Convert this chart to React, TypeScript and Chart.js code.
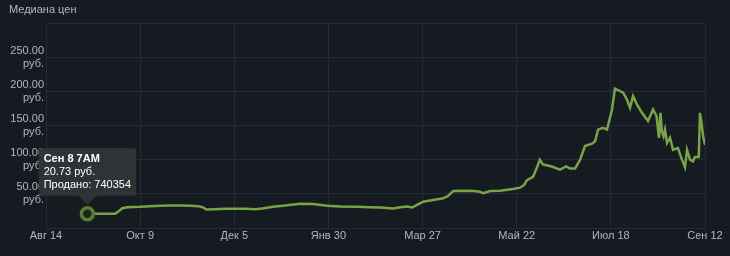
import React, { useEffect, useRef } from "react";
import { Chart, registerables } from "chart.js";

Chart.register(...registerables);

const chartTitle = "Медиана цен";
const xTickLabels = ["Авг 14", "Окт 9", "Дек 5", "Янв 30", "Мар 27", "Май 22", "Июл 18", "Сен 12"];
const xTickStepDays = 56;
const yTickValues = [0, 50, 100, 150, 200, 250, 300];
const currency = "руб.";

// days since Aug 14
const days = [
  24.4, 24.6, 32.3, 41.2, 43, 45.4, 48.3, 56, 62, 68, 74, 79.8, 85.8, 90.5, 93.5, 95.3,
  100.6, 106.6, 112.5, 118.5, 124.4, 128.6, 135.1, 142.3, 151.2, 158.9, 167.2, 175, 185,
  192.8, 198.8, 206.5, 210.6, 214.8, 217.8, 221.3, 224.3, 230.2, 236.2, 239.2, 242.2,
  248.1, 254.1, 258.2, 260, 264.2, 270.1, 277.8, 282, 284.4, 286.1, 289.7, 292, 293.7,
  295.6, 300.8, 305.8, 309.4, 311.7, 314.7, 317.7, 320.6, 324.8, 326.6, 328.4, 331.3,
  333.7, 336.7, 338.4, 341.4, 343.3, 345.6, 347.4, 349.2, 351.5, 354.5, 358.1, 361.1,
  363.2, 364.6, 365.5, 366.4, 367.3, 368.2, 369.4, 371.2, 373, 375.9, 378.3, 380.1,
  381.3, 383.1, 384.8, 386, 388.3, 389, 389.9, 390.9, 392,
];
const prices = [
  31, 20.73, 20.7, 20.7, 24, 29, 30.5, 31, 32, 32.5, 33, 33, 32.5, 32, 30, 27,
  27.5, 28, 28, 28, 27.5, 28.5, 31, 33, 35.5, 35, 32.5, 31.5, 31,
  30.5, 30, 28.5, 30.5, 31.5, 30, 34.5, 38.5, 41, 43.5, 47, 54,
  54.5, 54, 53, 51, 54, 54.5, 57, 59, 63, 70, 75, 88, 100,
  93, 90, 85.5, 90, 87, 87, 100, 120, 123.5, 127, 144, 146.5,
  144, 173.5, 204, 200.5, 198, 188, 176, 193, 181, 168.5, 156.5, 173.5,
  163.5, 132, 168.5, 140, 134, 144, 124.5, 132, 114.5, 117, 100, 89,
  114.5, 100, 97.5, 104, 104, 168.5, 154, 134, 122,
];

const tooltipIndex = 1;
const tooltipTitleText = "Сен 8 7AM";
const tooltipSold = 740354;

const BG = "#161b22";
const GRID = "#212c3a";
const TEXT = "#b0b7be";
const LINE = "#78a349";
const FONT = '"Liberation Sans", Arial, sans-serif';

export default function App() {
  const canvasRef = useRef<HTMLCanvasElement | null>(null);

  useEffect(() => {
    document.body.style.margin = "0";
    document.body.style.background = BG;
    const canvas = canvasRef.current;
    if (!canvas) return;

    const bgPlugin = {
      id: "bgAndTitle",
      beforeDraw(chart: any) {
        const ctx = chart.ctx;
        ctx.save();
        ctx.fillStyle = BG;
        ctx.fillRect(0, 0, chart.width, chart.height);
        ctx.restore();
      },
      afterDraw(chart: any) {
        const ctx = chart.ctx;
        ctx.save();
        ctx.fillStyle = TEXT;
        ctx.font = `11px ${FONT}`;
        ctx.textBaseline = "alphabetic";
        ctx.textAlign = "left";
        ctx.fillText(chartTitle, 9, 13);
        ctx.restore();
      },
    };

    const chart = new Chart(canvas, {
      type: "line",
      data: {
        datasets: [
          {
            data: days.map((d, i) => ({ x: d, y: prices[i] })),
            borderColor: LINE,
            borderWidth: 2.5,
            pointRadius: 0,
            pointHoverRadius: 6,
            pointHoverBorderWidth: 3.5,
            pointHoverBackgroundColor: "#1d2419",
            pointHoverBorderColor: "#5a7d37",
            tension: 0,
            fill: false,
          },
        ],
      },
      options: {
        animation: false,
        responsive: false,
        events: [],
        layout: { padding: { top: 23, right: 25, bottom: 0, left: 0 } },
        plugins: {
          legend: { display: false },
          title: { display: false },
          tooltip: {
            enabled: true,
            backgroundColor: "rgba(50,52,55,0.96)",
            titleColor: "#ffffff",
            bodyColor: "#ffffff",
            titleFont: { family: FONT, size: 11, weight: "bold" },
            bodyFont: { family: FONT, size: 11 },
            padding: { top: 4, bottom: 4, left: 5, right: 5 },
            titleMarginBottom: 0,
            bodySpacing: 0,
            caretSize: 9,
            caretPadding: 9,
            cornerRadius: 2,
            displayColors: false,
            xAlign: "center",
            yAlign: "bottom",
            callbacks: {
              title: () => tooltipTitleText,
              label: (item: any) => [
                `${Number(item.parsed.y).toFixed(2)} ${currency}`,
                `Продано: ${tooltipSold}`,
              ],
            },
          },
        },
        scales: {
          x: {
            type: "linear",
            min: 0,
            max: xTickStepDays * (xTickLabels.length - 1),
            afterBuildTicks: (axis: any) => {
              axis.ticks = xTickLabels.map((_, i) => ({ value: i * xTickStepDays }));
            },
            afterFit: (axis: any) => {
              axis.height = 28;
            },
            ticks: {
              color: TEXT,
              font: { family: FONT, size: 11 },
              padding: 1,
              maxRotation: 0,
              autoSkip: false,
              callback: (v: any) => {
                const idx = Math.round(Number(v) / xTickStepDays);
                return xTickLabels[idx] ?? "";
              },
            },
            grid: { color: GRID, drawTicks: false, lineWidth: 1 },
            border: { display: true, color: GRID },
          },
          y: {
            type: "linear",
            min: 0,
            max: 300,
            afterBuildTicks: (axis: any) => {
              axis.ticks = yTickValues.map((v) => ({ value: v }));
            },
            afterFit: (axis: any) => {
              axis.width = 46;
            },
            ticks: {
              color: TEXT,
              font: { family: FONT, size: 11, lineHeight: 1.2 },
              padding: 2,
              callback: (v: any) => {
                const n = Number(v);
                if (n === 0 || n === 300) return "";
                return [n.toFixed(2), currency];
              },
            },
            grid: { color: GRID, drawTicks: false, lineWidth: 1 },
            border: { display: true, color: GRID },
          },
        },
      } as any,
      plugins: [bgPlugin],
    });

    chart.setActiveElements([{ datasetIndex: 0, index: tooltipIndex }]);
    chart.tooltip?.setActiveElements([{ datasetIndex: 0, index: tooltipIndex }], { x: 0, y: 0 });
    chart.update("none");

    return () => {
      chart.destroy();
    };
  }, []);

  return (
    <div style={{ width: 730, height: 256, background: BG }}>
      <canvas ref={canvasRef} width={730} height={256} style={{ display: "block" }} />
    </div>
  );
}
